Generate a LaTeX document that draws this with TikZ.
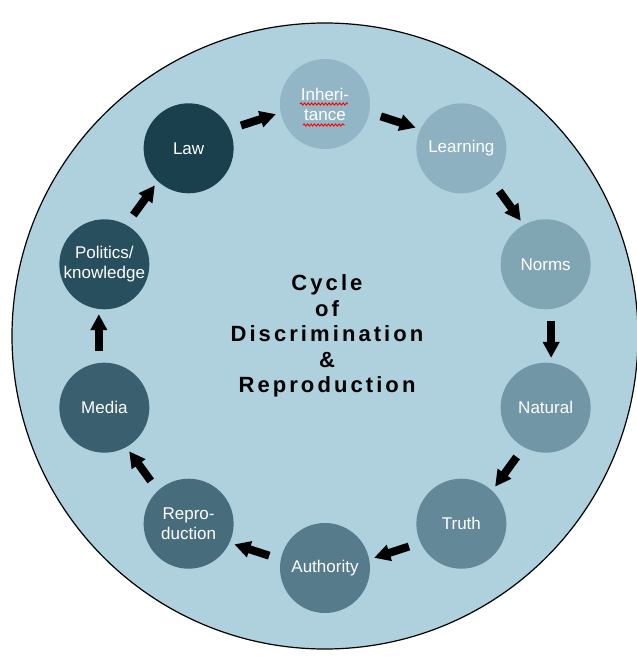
\documentclass[tikz,border=0pt]{standalone}
\usepackage{fontspec}
\setmainfont{Liberation Sans}
\newfontfamily\titlefont[LetterSpace=14]{Liberation Sans}
\usetikzlibrary{positioning}
\usetikzlibrary{arrows.meta}
\usetikzlibrary{decorations.pathmorphing}

\definecolor{ringfill}{HTML}{AED1DD}
\definecolor{inhcol}{HTML}{93B6C6}
\definecolor{learncol}{HTML}{8DB1C1}
\definecolor{normcol}{HTML}{80A5B3}
\definecolor{natcol}{HTML}{7196A6}
\definecolor{truthcol}{HTML}{638897}
\definecolor{authcol}{HTML}{567B8B}
\definecolor{reprocol}{HTML}{476D7C}
\definecolor{mediacol}{HTML}{3A5F6E}
\definecolor{polcol}{HTML}{284F5E}
\definecolor{lawcol}{HTML}{1A404E}

\tikzset{
  stage/.style={circle, minimum size=90pt, inner sep=0pt, text=white,
    align=center, font=\fontsize{17}{20}\selectfont},
  flow/.style={line width=8pt, -{Triangle[width=16pt,length=16pt]},
    shorten <=12pt, shorten >=5pt},
  typo/.style={red, line width=0.9pt, decorate,
    decoration={snake, amplitude=1.1pt, segment length=3.5pt}}
}

\begin{document}
\begin{tikzpicture}[x=1pt, y=1pt, black, align=center]
  \useasboundingbox (-325,-323) rectangle (312,336);
  \draw[line width=1.2pt, fill=ringfill] (0,0) circle [radius=313];

  % the ten stages, clockwise from the top
  \node[stage, fill=inhcol] (inh) at (90:232) {Inheri-\\tance};
  \node[stage, fill=learncol] (learn) at (54:232) {Learning};
  \node[stage, fill=normcol] (norms) at (18:232) {Norms};
  \node[stage, fill=natcol] (nat) at (-18:232) {Natural};
  \node[stage, fill=truthcol] (truth) at (-54:232) {Truth};
  \node[stage, fill=authcol] (auth) at (-90:232) {Authority};
  \node[stage, fill=reprocol] (repro) at (-126:232) {Repro-\\duction};
  \node[stage, fill=mediacol] (media) at (-162:232) {Media};
  \node[stage, fill=polcol] (pol) at (162:232) {Politics/\\knowledge};
  \node[stage, fill=lawcol] (law) at (126:232) {Law};

  % spell-check marks under inheritance
  \draw[typo] ([shift={(-25,0)}]inh.center) -- ++(48,0);
  \draw[typo] ([shift={(-22,-21)}]inh.center) -- ++(42,0);

  % arrows sit a little outside the chord between two stages
  \draw[flow] (law.25) -- (inh.191);
  \draw[flow] (inh.-11) -- (learn.155);
  \draw[flow] (learn.-47) -- (norms.119);
  \draw[flow] (norms.-83) -- (nat.83);
  \draw[flow] (nat.-119) -- (truth.47);
  \draw[flow] (truth.-155) -- (auth.11);
  \draw[flow] (auth.169) -- (repro.-25);
  \draw[flow] (repro.133) -- (media.-61);
  \draw[flow] (media.97) -- (pol.-97);
  \draw[flow] (pol.61) -- (law.227);

  \node[font=\titlefont\bfseries\fontsize{22}{25.5}\selectfont] (title) at (2,0)
    {Cycle\\of\\Discrimination\\\&\\Reproduction};
\end{tikzpicture}
\end{document}
